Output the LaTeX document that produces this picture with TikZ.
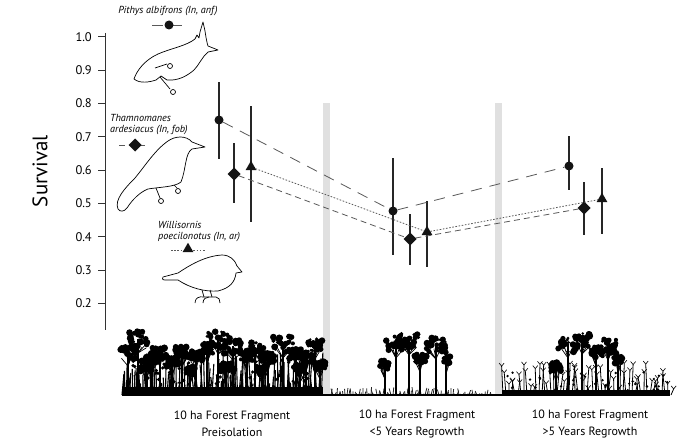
\documentclass[tikz,border=0pt]{standalone}
\usepackage{fontspec}
\setmainfont{PT Sans}
\usetikzlibrary{shapes.geometric}
\definecolor{bargray}{HTML}{E0E0E0}
\newcommand{\mytree}[3]{%
  \draw[line width=1.4pt] (#1,395) -- (#1,#2+#3);
  \foreach \k in {1,...,30}{%
    \pgfmathsetmacro{\ax}{#1+rand*#3*1.1}%
    \pgfmathsetmacro{\ay}{#2+#3+rand*#3*0.9}%
    \pgfmathsetmacro{\ar}{1.3+rnd*2.2}%
    \fill (\ax,\ay) circle[radius=\ar pt];
  }%
  \foreach \k in {1,...,5}{%
    \pgfmathsetmacro{\bx}{#1+rand*#3}%
    \pgfmathsetmacro{\by}{#2+#3+rnd*#3}%
    \draw[line width=0.7pt] (#1,#2+#3+14) -- (\bx,\by);
  }%
}
\begin{document}
\begin{tikzpicture}[x=1pt,y=-1pt,
  mk/.style={fill=black!92, draw=none, inner sep=0pt, outer sep=0pt},
  circ/.style={mk, circle, minimum size=9pt},
  diam/.style={mk, diamond, minimum size=13pt},
  tri/.style={mk, regular polygon, regular polygon sides=3, minimum size=12.5pt},
  ebar/.style={line width=1.1pt, black!85},
  cline/.style={black!65, line width=0.8pt, dash pattern=on 11pt off 8pt},
  dline/.style={black!65, line width=0.8pt, dash pattern=on 6pt off 4pt},
  tline/.style={black!65, line width=0.8pt, dash pattern=on 1.6pt off 1.6pt},
  bird/.style={black, line width=0.7pt, line join=round},
  legtext/.style={font=\fontsize{10.2}{12}\selectfont\itshape, inner sep=0pt},
  ticklab/.style={font=\fontsize{12.5}{14}\selectfont, anchor=east, inner sep=0pt},
  catlab/.style={font=\fontsize{12}{17}\selectfont, align=center, inner sep=0pt}
]
\useasboundingbox (0,0) rectangle (693,444);
\fill[white] (0,0) rectangle (693,444);

% gray separators
\fill[bargray] (323,103) rectangle (330,395);
\fill[bargray] (495,103) rectangle (502,395);

% y axis
\draw[line width=1pt, black!80] (105,33) -- (105,330);
\foreach \v/\t in {0/1.0,1/0.9,2/0.8,3/0.7,4/0.6,5/0.5,6/0.4,7/0.3,8/0.2}{
  \draw[line width=1pt, black!80] (98,37+33.3*\v) -- (105,37+33.3*\v);
  \node[ticklab] (tk\v) at (92,37+33.3*\v) {\t};
}
\node[font=\fontsize{21}{24}\selectfont, rotate=90, inner sep=0pt] (ylab) at (40,171) {Survival};

% error bars
\draw[ebar] (219,82) -- (219,159);
\draw[ebar] (234,143) -- (234,203);
\draw[ebar] (251,106) -- (251,222);
\draw[ebar] (393,158) -- (393,255);
\draw[ebar] (410,214) -- (410,265);
\draw[ebar] (427,201) -- (427,267);
\draw[ebar] (569,136) -- (569,190);
\draw[ebar] (584,182) -- (584,235);
\draw[ebar] (602,168) -- (602,234);

% markers
\node[circ] (c1) at (219,120) {};
\node[diam] (d1) at (234,174) {};
\node[tri]  (t1) at (251,167) {};
\node[circ] (c2) at (393,211) {};
\node[diam] (d2) at (410,239) {};
\node[tri]  (t2) at (427,232) {};
\node[circ] (c3) at (569,166) {};
\node[diam] (d3) at (584,208) {};
\node[tri]  (t3) at (602,199) {};

% connectors
\draw[cline] (c1) -- (c2);
\draw[cline] (c2) -- (c3);
\draw[dline] (d1) -- (d2);
\draw[dline] (d2) -- (d3);
\draw[tline] (t1) -- (t2);
\draw[tline] (t2) -- (t3);

% legend 1 : Pithys
\node[legtext] (l1) at (168,11) {Pithys albifrons (In, anf)};
\coordinate (l1a) at (152,25);
\coordinate (l1b) at (186,25);
\draw[cline] (l1a) -- (l1b);
\node[circ] (l1m) at (169,25) {};
\draw[bird] (134,79) .. controls (137,70) and (145,60) .. (158,54)
  .. controls (172,48) and (186,46) .. (195,39) -- (197,35) -- (199,38) -- (200,32) -- (203,22)
  -- (205,31) .. controls (206,38) and (207,43) .. (208,46) -- (218,50) -- (208,52)
  .. controls (202,57) and (199,65) .. (194,70) .. controls (187,76) and (178,81) .. (167,80)
  -- (161,76) -- (156,80) .. controls (150,82) and (140,84) .. (134,79) -- cycle;
\draw[bird] (160,77) -- (170,89);
\draw[bird] (173,92) circle[radius=2.5pt];
\draw[bird] (155,68) -- (167,64);
\draw[bird] (170,66) circle[radius=2.5pt];

% legend 2 : Thamnomanes
\node[legtext, anchor=west] (l2a) at (110,118) {Thamnomanes};
\node[legtext, anchor=west] (l2b) at (110,130) {ardesiacus (In, fob)};
\coordinate (l2s) at (119,145);
\coordinate (l2e) at (148,145);
\draw[dline] (l2s) -- (l2e);
\node[diam] (l2m) at (135,145) {};
\draw[bird] (118,209) .. controls (114,200) and (125,188) .. (135,178)
  .. controls (145,166) and (155,150) .. (168,141) .. controls (175,136) and (186,135) .. (192,142)
  -- (205,147) -- (192,149) .. controls (185,153) and (186,170) .. (181,182)
  .. controls (175,187) and (160,187) .. (148,189) .. controls (140,192) and (132,200) .. (127,208)
  .. controls (124,212) and (120,212) .. (118,209) -- cycle;
\draw[bird] (156,188) -- (160,198);
\draw[bird] (161,201) circle[radius=2.5pt];
\draw[bird] (174,185) -- (177,188);
\draw[bird] (178,191) circle[radius=2.5pt];

% legend 3 : Willisornis
\node[legtext, anchor=west] (l3a) at (158,225) {Willisornis};
\node[legtext, anchor=west] (l3b) at (158,237) {poecilonotus (In, ar)};
\coordinate (l3s) at (171,250);
\coordinate (l3e) at (205,250);
\draw[tline] (l3s) -- (l3e);
\node[tri] (l3m) at (188,249) {};
\draw[bird] (163,277) -- (178,273) .. controls (190,265) and (205,256) .. (222,255)
  .. controls (230,255) and (235,260) .. (237,266) -- (242,272) -- (236,273)
  .. controls (235,282) and (230,288) .. (218,291) .. controls (205,292) and (190,288) .. (178,280)
  -- (165,280) .. controls (162,280) and (162,278) .. (163,277) -- cycle;
\draw[bird] (202,290) -- (204,297);
\draw[bird] (210,290) -- (212,297);
\draw[bird] (195,303) .. controls (195,298) and (199,296) .. (204,297) -- (216,297)
  .. controls (219,297) and (220,300) .. (220,303);
\draw[bird] (203,303) .. controls (203,299) and (206,297) .. (209,297);

% ===== forests =====
\pgfmathsetseed{4242}
% forest 1 understory
\fill (122,395) rectangle (323,387);
\foreach \i in {0,...,133}{
  \pgfmathsetmacro{\xx}{122+1.5*\i}
  \pgfmathsetmacro{\hh}{10+rnd*35}
  \pgfmathsetmacro{\dd}{rand*3}
  \draw[line width=1.1pt] (\xx,395) -- (\xx+\dd,395-\hh);
}
\foreach \i in {0,...,60}{
  \pgfmathsetmacro{\xx}{124+rnd*197}
  \pgfmathsetmacro{\yy}{360+rnd*28}
  \fill (\xx,\yy) circle[radius=1.8pt];
}
\foreach \x/\y/\r in {128/345/7,138/330/9,146/360/6,152/352/6,160/346/7,172/355/6,182/345/7,
  190/365/5,196/350/6,207/342/6,218/330/10,226/362/5,233/337/9,247/350/6,255/342/8,
  262/365/5,268/352/6,283/335/9,296/348/6,300/362/6,306/352/6,315/338/7,320/360/5}{
  \mytree{\x}{\y}{\r}
}
% forest 2
\foreach \i in {0,...,80}{
  \pgfmathsetmacro{\xx}{331+2*\i}
  \pgfmathsetmacro{\hh}{1+rnd*7}
  \draw[line width=0.8pt, black!85] (\xx,395) -- (\xx+rand*2,395-\hh);
}
\foreach \x/\y/\r in {385/360/5,396/335/9,409/332/9,420/352/6,436/336/9,446/356/4}{
  \mytree{\x}{\y}{\r}
}
% forest 3
\foreach \i in {0,...,56}{
  \pgfmathsetmacro{\xx}{503+3*\i}
  \pgfmathsetmacro{\hh}{6+rnd*26}
  \pgfmathsetmacro{\dd}{rand*3}
  \draw[line width=0.8pt] (\xx,395) -- (\xx+\dd,395-\hh);
  \draw[line width=0.6pt] (\xx+\dd,395-\hh) -- (\xx+\dd+2.5,392-\hh);
  \draw[line width=0.6pt] (\xx+\dd,395-\hh) -- (\xx+\dd-2.5,392-\hh);
}
\foreach \i in {0,...,40}{
  \pgfmathsetmacro{\xx}{504+rnd*164}
  \pgfmathsetmacro{\yy}{372+rnd*20}
  \fill (\xx,\yy) circle[radius=1.3pt];
}
\fill (502,395) rectangle (670,390);
\foreach \x/\y/\r in {556/362/5,568/335/9,582/332/8,596/346/6,608/338/8,618/356/4}{
  \mytree{\x}{\y}{\r}
}
% ground line
\draw[line width=2pt] (122,395) -- (670,395);

% category labels
\node[catlab] (f1) at (232,424) {10 ha Forest Fragment\\Preisolation};
\node[catlab] (f2) at (417,424) {10 ha Forest Fragment\\{<}5 Years Regrowth};
\node[catlab] (f3) at (590,424) {10 ha Forest Fragment\\{>}5 Years Regrowth};
\end{tikzpicture}
\end{document}
